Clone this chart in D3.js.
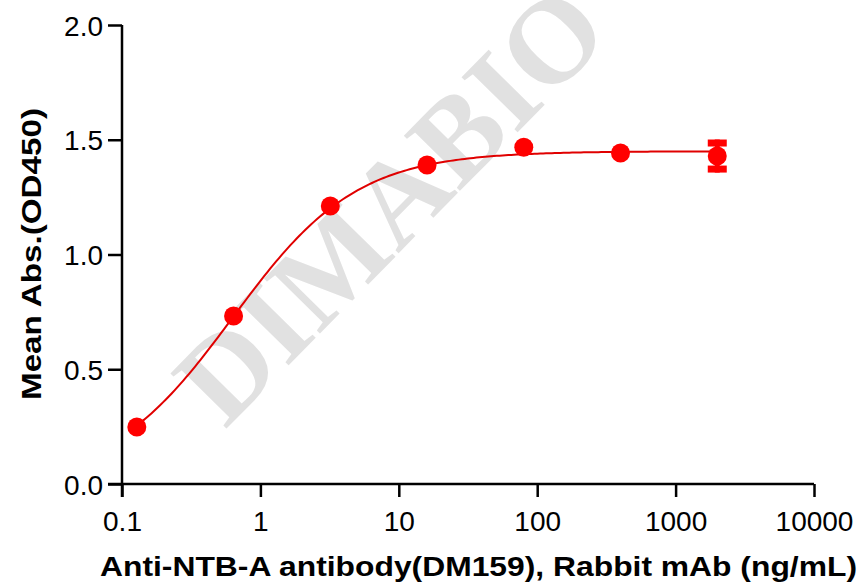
<!DOCTYPE html>
<html><head><meta charset="utf-8">
<script src="https://cdn.jsdelivr.net/npm/d3@7"></script>
<style>body{margin:0;background:#fff}svg{display:block}</style>
</head><body>
<svg id="c" width="860" height="584"></svg>
<script>
const concentrations = [0.128, 0.64, 3.2, 16, 80, 400, 2000];
const meanAbs = [0.248, 0.732, 1.211, 1.390, 1.467, 1.442, 1.429];
const errAbs = [0, 0, 0, 0, 0, 0, 0.072];
const xTicks = [0.1, 1, 10, 100, 1000, 10000];
const xTickLabels = ["0.1", "1", "10", "100", "1000", "10000"];
const yTicks = [0.0, 0.5, 1.0, 1.5, 2.0];
const yTickLabels = ["0.0", "0.5", "1.0", "1.5", "2.0"];
// 4PL fit parameters (bottom, top, EC50, hill)
const fitBottom = 0.0, fitTop = 1.45, fitEC50 = 0.63, fitHill = 0.97;
const xTitle = "Anti-NTB-A antibody(DM159), Rabbit mAb (ng/mL)";
const yTitle = "Mean Abs.(OD450)";
const watermark = "DIMABIO";

const svg = d3.select("#c");
const m = {l:122, r:814, t:25, b:484};
const x = d3.scaleLog().domain([0.1, 10000]).range([m.l, m.r]);
const y = d3.scaleLinear().domain([0, 2]).range([m.b, m.t]);

// watermark
svg.append("text").attr("transform","translate(225,430) rotate(-45.5)")
  .attr("font-family","'Liberation Serif','Times New Roman',serif")
  .attr("font-weight","bold").attr("font-size",120).attr("fill","#e1e1e1")
  .text(watermark);

const font = "'Liberation Sans',Arial,sans-serif";
const xa = svg.append("g").attr("transform",`translate(0,${m.b})`)
  .call(d3.axisBottom(x).tickValues(xTicks).tickFormat((d,i)=>xTickLabels[i]).tickSize(13).tickPadding(14).tickSizeOuter(0));
const ya = svg.append("g").attr("transform",`translate(${m.l},0)`)
  .call(d3.axisLeft(y).tickValues(yTicks).tickFormat((d,i)=>yTickLabels[i]).tickSize(14).tickPadding(5).tickSizeOuter(0));
[xa, ya].forEach(g=>{
  g.selectAll("path,line").attr("stroke","#000").attr("stroke-width",2.5);
  g.selectAll("text").attr("font-family",font).attr("font-size",28).attr("fill","#000");
});
xa.select("path").attr("d",`M${m.l-14},0H${m.r}`);
ya.select("path").attr("d",`M0,${m.t}V${m.b+13}`);
xa.selectAll("text").attr("dy","0.71em");
ya.selectAll("text").attr("dy","0.36em");

// fitted curve
const lo = Math.log10(concentrations[0]), hi = Math.log10(concentrations[concentrations.length-1]);
const fx = d3.range(0, 201).map(i => Math.pow(10, lo + i/200*(hi - lo)));
const fit = v => fitBottom + (fitTop - fitBottom) / (1 + Math.pow(fitEC50 / v, fitHill));
svg.append("path").datum(fx).attr("fill","none").attr("stroke","#e00000").attr("stroke-width",2)
  .attr("d", d3.line().x(d=>x(d)).y(d=>y(fit(d))));

// error bars
const pts = concentrations.map((c,i)=>({c, v:meanAbs[i], e:errAbs[i]}));
const eb = svg.append("g").attr("fill","#ff0000");
pts.filter(p=>p.e>0).forEach(p=>{
  const cx = x(p.c), yt = y(p.v+p.e), yb = y(p.v-p.e);
  eb.append("rect").attr("x",cx-2.5).attr("width",5).attr("y",yt).attr("height",yb-yt);
  eb.append("rect").attr("x",cx-9.5).attr("width",19).attr("y",yt).attr("height",7);
  eb.append("rect").attr("x",cx-9.5).attr("width",19).attr("y",yb-7).attr("height",7);
});
svg.append("g").selectAll("circle").data(pts).join("circle")
  .attr("cx",d=>x(d.c)).attr("cy",d=>y(d.v)).attr("r",9.5).attr("fill","#ff0000");

svg.append("text").attr("x",100).attr("y",576)
  .attr("font-family",font).attr("font-weight","bold").attr("font-size",28.5)
  .attr("textLength",757).attr("lengthAdjust","spacingAndGlyphs").text(xTitle);
svg.append("text").attr("transform",`translate(41,400) rotate(-90)`)
  .attr("font-family",font).attr("font-weight","bold").attr("font-size",28)
  .attr("textLength",292).attr("lengthAdjust","spacingAndGlyphs").text(yTitle);
</script>
</body></html>
